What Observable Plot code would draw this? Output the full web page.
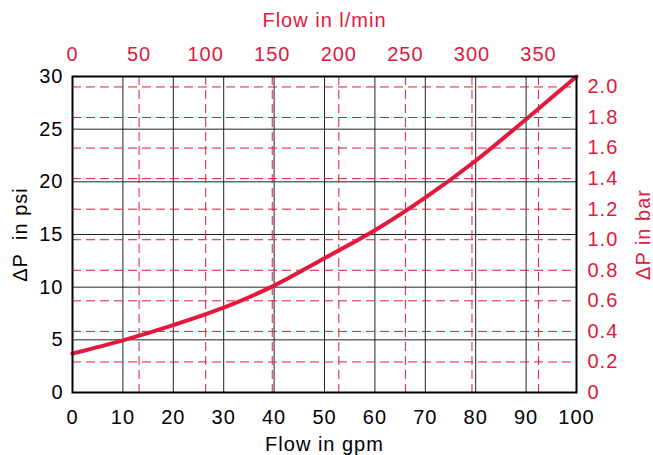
<!DOCTYPE html>
<html>
<head>
<meta charset="utf-8">
<script src="https://cdn.jsdelivr.net/npm/d3@7"></script>
<script src="https://cdn.jsdelivr.net/npm/@observablehq/plot@0.6"></script>
<style>
  html, body { margin: 0; padding: 0; background: #fff; }
  #chart { width: 653px; height: 455px; }
</style>
</head>
<body>
<div id="chart"></div>
<script>
// Data
const flowGpm = [0, 10, 20, 30, 40, 50, 60, 70, 80, 90, 100];
const dpPsi   = [3.7, 4.95, 6.4, 8.05, 10.15, 12.75, 15.4, 18.5, 22.0, 25.95, 30.0];

// Tick values
const gpmTicks = [0, 10, 20, 30, 40, 50, 60, 70, 80, 90, 100];
const psiTicks = [0, 5, 10, 15, 20, 25, 30];
const lpmTicks = [0, 50, 100, 150, 200, 250, 300, 350];
const barTicks = [0, 0.2, 0.4, 0.6, 0.8, 1.0, 1.2, 1.4, 1.6, 1.8, 2.0];

// Unit conversions
const LPM_PER_GPM = 3.785;
const PSI_PER_BAR = 14.5038;

const RED = "#e3183b";
const data = flowGpm.map((g, i) => ({gpm: g, psi: dpPsi[i]}));

const chart = Plot.plot({
  width: 653,
  height: 455,
  marginLeft: 72,
  marginRight: 77,
  marginTop: 76,
  marginBottom: 63,
  style: {fontFamily: "'Liberation Sans', Arial, sans-serif", fontSize: "20px", letterSpacing: "1px", background: "white", color: "black"},
  x: {domain: [0, 100], nice: false},
  y: {domain: [0, 30], nice: false},
  marks: [
    Plot.ruleX(gpmTicks.filter(d => d > 0 && d < 100), {stroke: "#222", strokeWidth: 1}),
    Plot.ruleY(psiTicks.filter(d => d > 0 && d < 30), {stroke: "#222", strokeWidth: 1}),
    Plot.ruleX(lpmTicks.filter(d => d > 0), {x: d => d / LPM_PER_GPM, stroke: RED, strokeWidth: 1, strokeDasharray: "9,5"}),
    Plot.ruleY(barTicks.filter(d => d > 0), {y: d => d * PSI_PER_BAR, stroke: RED, strokeWidth: 1, strokeDasharray: "9,5"}),
    Plot.line(data, {x: "gpm", y: "psi", curve: "catmull-rom", stroke: RED, strokeWidth: 4}),
    Plot.frame({stroke: "black", strokeWidth: 2}),
    Plot.axisX(gpmTicks, {anchor: "bottom", tickSize: 0, tickPadding: 17, label: null}),
    Plot.axisY(psiTicks, {anchor: "left", tickSize: 0, tickPadding: 9, label: null}),
    Plot.axisX(lpmTicks.map(d => d / LPM_PER_GPM), {anchor: "top", tickSize: 0, tickPadding: 16, label: null, fill: RED,
      tickFormat: d => String(Math.round(d * LPM_PER_GPM))}),
    Plot.axisY(barTicks.map(d => d * PSI_PER_BAR), {anchor: "right", tickSize: 0, tickPadding: 11, label: null, fill: RED,
      tickFormat: d => { const b = Math.round(d / PSI_PER_BAR * 10) / 10; return b === 0 ? "0" : b.toFixed(1); }}),
    Plot.text(["Flow in gpm"], {frameAnchor: "bottom", dy: 52, lineAnchor: "middle", textAnchor: "middle", text: d => d, fill: "black"}),
    Plot.text(["Flow in l/min"], {frameAnchor: "top", dy: -56, lineAnchor: "middle", textAnchor: "middle", text: d => d, fill: RED}),
    Plot.text(["ΔP\u00a0 in psi"], {frameAnchor: "left", dx: -52, rotate: -90, lineAnchor: "middle", textAnchor: "middle", text: d => d, fill: "black"}),
    Plot.text(["ΔP in bar"], {frameAnchor: "right", dx: 67, rotate: -90, lineAnchor: "middle", textAnchor: "middle", text: d => d, fill: RED})
  ]
});
document.getElementById("chart").appendChild(chart);
</script>
</body>
</html>
